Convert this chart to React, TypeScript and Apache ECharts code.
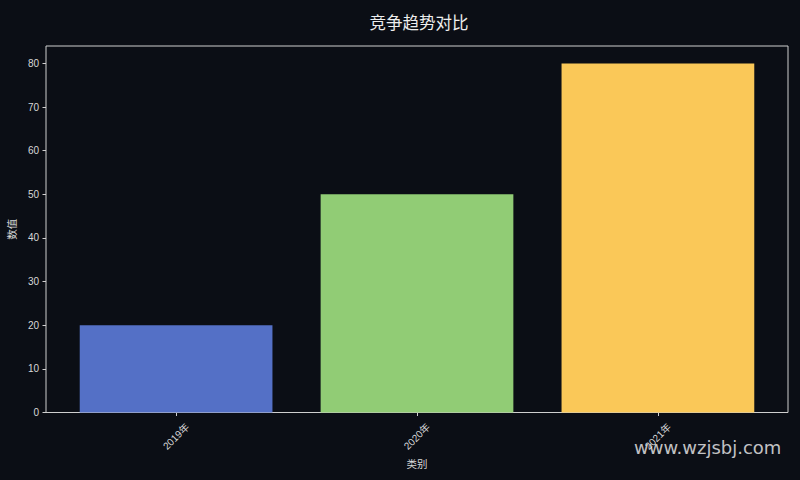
import React, { useEffect, useRef } from "react";
import * as echarts from "echarts";

const categories = ["2019年", "2020年", "2021年"];
const values = [20, 50, 80];
const barColors = ["#5470c6", "#91cc75", "#fac858"];
const yTicks = [0, 10, 20, 30, 40, 50, 60, 70, 80];
const xTicks = [0, 1, 2];

const FONT = "'Liberation Sans', 'Noto Sans CJK SC', sans-serif";
const CJK = "'Noto Sans CJK SC', sans-serif";

export default function App() {
  const ref = useRef<HTMLDivElement>(null);
  useEffect(() => {
    if (!ref.current) return;
    const chart = echarts.init(ref.current, null, { renderer: "svg" });
    chart.setOption({
      animation: false,
      backgroundColor: "#0b0e15",
      title: {
        text: "竞争趋势对比",
        left: 414,
        textAlign: "center",
        top: 9,
        textStyle: { color: "#eeeeee", fontSize: 16.5, fontWeight: "normal", fontFamily: CJK },
      },
      grid: {
        left: 46,
        right: 12,
        top: 46,
        bottom: 67.5,
        containLabel: false,
        outerBoundsMode: "none",
        show: true,
        borderColor: "#cfcfcf",
        borderWidth: 1,
        backgroundColor: "transparent",
      },
      xAxis: {
        type: "value",
        min: -0.54,
        max: 2.54,
        splitLine: { show: false },
        axisLine: { show: false, onZero: false },
        axisTick: {
          show: true,
          customValues: xTicks,
          length: 3.5,
          lineStyle: { color: "#cfcfcf" },
        },
        axisLabel: {
          customValues: xTicks,
          formatter: (v: number) => categories[Math.round(v)] ?? "",
          rotate: 45,
          align: "center",
          verticalAlign: "middle",
          margin: 24,
          color: "#d8d8d8",
          fontSize: 10,
          fontFamily: FONT,
        },
        name: "类别",
        nameLocation: "middle",
        nameGap: 45,
        nameTextStyle: { color: "#d8d8d8", fontSize: 10.5, fontFamily: CJK },
      },
      yAxis: {
        type: "value",
        min: 0,
        max: 84,
        interval: 10,
        splitLine: { show: false },
        axisLine: { show: false, onZero: false },
        axisTick: {
          show: true,
          customValues: yTicks,
          length: 3.5,
          lineStyle: { color: "#cfcfcf" },
        },
        axisLabel: {
          customValues: yTicks,
          margin: 7,
          color: "#d8d8d8",
          fontSize: 10,
          fontFamily: FONT,
        },
        name: "数值",
        nameLocation: "middle",
        nameGap: 27,
        nameTextStyle: { color: "#d8d8d8", fontSize: 10.5, fontFamily: CJK },
      },
      series: [
        {
          type: "bar",
          barWidth: "80%",
          data: values.map((v, i) => ({
            value: [i, v],
            itemStyle: { color: barColors[i] },
          })),
        },
      ],
      graphic: [
        {
          type: "text",
          left: 634,
          top: 438,
          z: 100,
          style: {
            text: "www.wzjsbj.com",
            fill: "rgba(255,255,255,0.75)",
            fontSize: 18,
            fontFamily: "'DejaVu Sans', sans-serif",
          },
        },
      ],
    });
    return () => chart.dispose();
  }, []);
  return (
    <div
      ref={ref}
      style={{ position: "fixed", left: 0, top: 0, width: 800, height: 480 }}
    />
  );
}
